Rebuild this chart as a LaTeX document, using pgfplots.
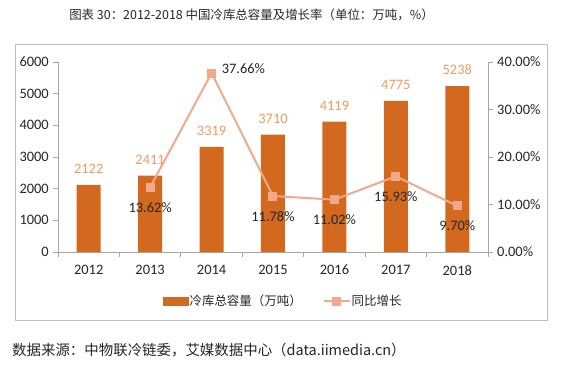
\documentclass[border=0pt]{standalone}
\usepackage{pgfplots}
\pgfplotsset{compat=1.18}
\usepackage{fontspec}
\setmainfont{Carlito}
\newfontfamily\cjk{Noto Sans CJK SC}
\definecolor{barorange}{HTML}{D2691E}
\definecolor{lineorange}{HTML}{F2A98B}
\definecolor{lblorange}{HTML}{F09A60}
\definecolor{axisgray}{HTML}{A6A6A6}
\definecolor{framegray}{HTML}{BFBFBF}
\definecolor{txt}{HTML}{262626}
\newcommand\numfont{\fontsize{14.5}{16}\selectfont}
\begin{document}
\begin{tikzpicture}
\draw[framegray, line width=1bp] (15bp,-44bp) rectangle (547bp,-320bp);
\node[anchor=center, text=txt, font=\cjk\fontsize{12.5}{14}\selectfont, inner sep=0] at (251.5bp,-15bp) {图表 30：2012-2018 中国冷库总容量及增长率（单位：万吨，\%）};
\node[anchor=west, text=txt, font=\cjk\fontsize{14.5}{16}\selectfont, inner sep=0] at (12bp,-350bp) {数据来源：中物联冷链委，艾媒数据中心（data.iimedia.cn）};
\begin{axis}[
  at={(58bp,-252bp)}, anchor=south west,
  scale only axis, width=430bp, height=190bp,
  xmin=-0.5, xmax=6.5, ymin=0, ymax=6000,
  axis x line*=bottom, axis y line*=left,
  axis line style={draw=axisgray, line width=0.8bp},
  tick align=outside, major tick length=5bp,
  xtick={0,...,6}, xticklabels={2012,2013,2014,2015,2016,2017,2018},
  xtick style={draw=none},
  ytick={0,1000,...,6000}, yticklabels={0,1000,2000,3000,4000,5000,6000},
  ytick style={draw=axisgray, line width=0.8bp},
  ticklabel style={font=\numfont, text=txt},
  xticklabel style={inner sep=0, anchor=north, yshift=-8bp},
  yticklabel style={inner sep=0, anchor=east, xshift=-4bp},
  /pgf/number format/assume math mode=true,
  clip=false,
]
\addplot[ybar, bar width=24bp, fill=barorange, draw=none,
  point meta=explicit symbolic,
  nodes near coords={\pgfplotspointmeta},
  every node near coord/.style={anchor=south, inner sep=0, yshift=11bp, font=\numfont, text=lblorange}]
  coordinates {(0,2122)[2122] (1,2411)[2411] (2,3319)[3319] (3,3710)[3710] (4,4119)[4119] (5,4775)[4775] (6,5238)[5238]};
\end{axis}
\begin{axis}[
  at={(58bp,-252bp)}, anchor=south west,
  scale only axis, width=430bp, height=190bp,
  xmin=-0.5, xmax=6.5, ymin=0, ymax=40,
  axis x line*=bottom, axis y line*=right,
  axis line style={draw=axisgray, line width=0.8bp},
  tick align=outside, major tick length=5bp,
  xtick={-0.5,0.5,...,6.5}, xticklabels={},
  xtick style={draw=axisgray, line width=0.8bp},
  ytick={0,10,...,40}, yticklabels={0.00\%,10.00\%,20.00\%,30.00\%,40.00\%},
  ytick style={draw=axisgray, line width=0.8bp},
  ticklabel style={font=\numfont, text=txt},
  yticklabel style={inner sep=0, anchor=west, xshift=4bp},
  /pgf/number format/assume math mode=true,
  clip=false,
  legend style={draw=none, fill=none, at={(0.523,-0.258)}, anchor=center,
    legend columns=2, font=\cjk\fontsize{12.5}{14}\selectfont, text=txt,
    /tikz/every even column/.append style={column sep=20bp},
    nodes={inner sep=1bp}},
]
\addlegendimage{legend image code/.code={\fill[barorange] (0bp,-4bp) rectangle (25bp,4bp);}}
\addlegendentry{冷库总容量（万吨）}
\addplot[color=lineorange, line width=2bp, mark=square*, mark size=3.5bp,
  legend image code/.code={\draw[lineorange, line width=2bp, mark=square*, mark size=3.5bp, mark repeat=2, mark phase=2] plot coordinates {(0bp,0bp) (13bp,0bp) (26bp,0bp)};}]
  coordinates {(1,13.62) (2,37.66) (3,11.78) (4,11.02) (5,15.93) (6,9.70)};
\addlegendentry{同比增长}
\addplot[draw=none, forget plot, point meta=explicit symbolic,
  nodes near coords={\pgfplotspointmeta},
  every node near coord/.style={anchor=north, inner sep=0, yshift=-15bp, font=\numfont, text=txt}]
  coordinates {(1,13.62)[13.62\%] (3,11.78)[11.78\%] (4,11.02)[11.02\%] (5,15.93)[15.93\%] (6,9.70)[9.70\%]};
\addplot[draw=none, forget plot, point meta=explicit symbolic,
  nodes near coords={\pgfplotspointmeta},
  every node near coord/.style={anchor=west, inner sep=0, xshift=10bp, yshift=4bp, font=\numfont, text=txt}]
  coordinates {(2,37.66)[37.66\%]};
\end{axis}
\pgfresetboundingbox
\path[use as bounding box] (0bp,0bp) rectangle (569bp,-366bp);
\end{tikzpicture}
\end{document}
